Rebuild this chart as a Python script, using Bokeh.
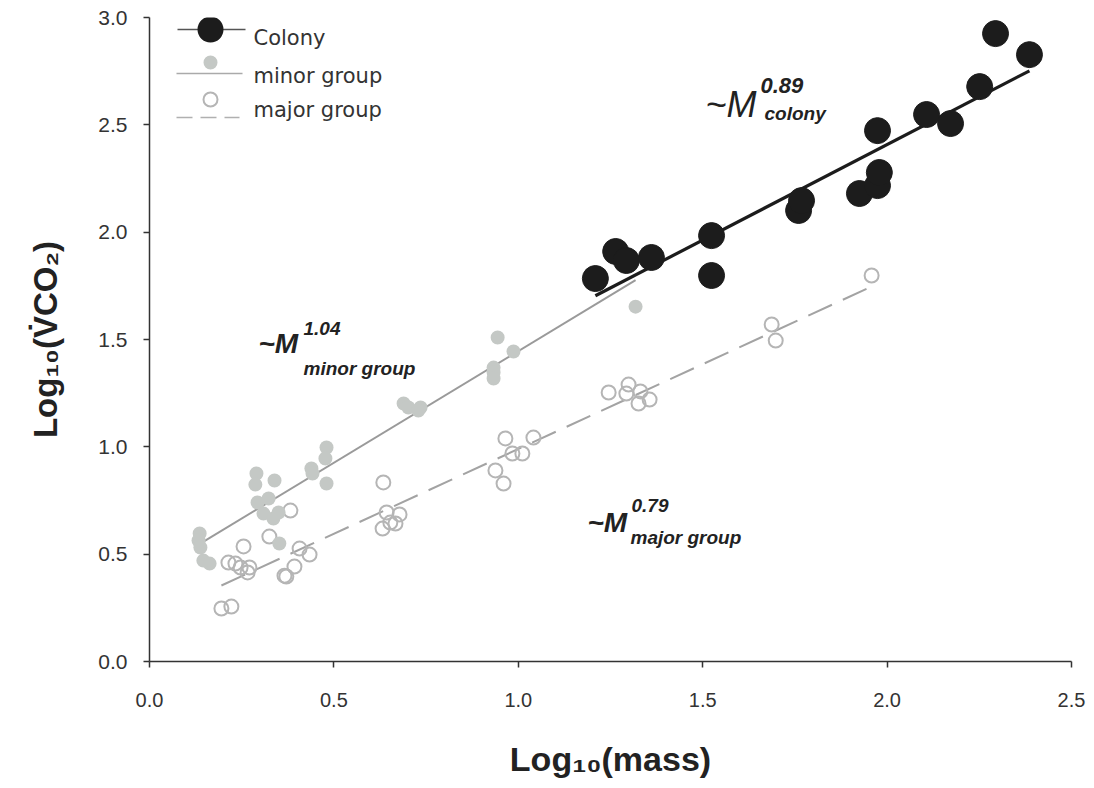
import numpy as np
from bokeh.plotting import figure
from bokeh.models import Range1d, Label, FixedTicker, NumeralTickFormatter
from bokeh.embed import file_html
from bokeh.resources import INLINE

# ---- data: log10(mass) vs log10(VCO2) ----
colony_x = [1.209, 1.264, 1.293, 1.361, 1.524, 1.524, 1.760, 1.768, 1.925,
            1.974, 1.979, 1.974, 2.107, 2.172, 2.251, 2.294, 2.386]
colony_y = [1.784, 1.910, 1.868, 1.882, 1.984, 1.798, 2.101, 2.147, 2.180,
            2.217, 2.278, 2.473, 2.548, 2.506, 2.678, 2.925, 2.827]

minor_x = [0.136, 0.133, 0.138, 0.146, 0.163, 0.290, 0.287, 0.339, 0.293, 0.323,
           0.309, 0.336, 0.350, 0.352, 0.439, 0.442, 0.480, 0.477, 0.480, 0.689,
           0.702, 0.735, 0.729, 0.944, 0.987, 0.933, 0.933, 0.933, 1.318]
minor_y = [0.596, 0.564, 0.531, 0.470, 0.456, 0.876, 0.824, 0.843, 0.741, 0.759,
           0.689, 0.666, 0.694, 0.550, 0.899, 0.876, 0.997, 0.946, 0.829, 1.202,
           1.183, 1.183, 1.169, 1.509, 1.444, 1.369, 1.346, 1.318, 1.653]

major_x = [0.195, 0.222, 0.214, 0.233, 0.247, 0.266, 0.271, 0.255, 0.325, 0.382,
           0.407, 0.434, 0.393, 0.371, 0.366, 0.634, 0.643, 0.632, 0.653, 0.667,
           0.678, 0.965, 1.041, 0.984, 1.011, 0.938, 0.960, 1.245, 1.299, 1.293,
           1.331, 1.326, 1.356, 1.687, 1.698, 1.958]
major_y = [0.247, 0.256, 0.461, 0.456, 0.438, 0.415, 0.438, 0.536, 0.582, 0.703,
           0.526, 0.498, 0.442, 0.396, 0.400, 0.834, 0.694, 0.619, 0.647, 0.643,
           0.685, 1.039, 1.043, 0.969, 0.969, 0.890, 0.829, 1.253, 1.290, 1.248,
           1.258, 1.202, 1.220, 1.570, 1.495, 1.798]

# scaling exponents (slope) and intercepts of the fitted lines
colony_fit = (0.89, 0.628)
minor_fit = (1.04, 0.406)
major_fit = (0.79, 0.200)

x_ticks = [0.0, 0.5, 1.0, 1.5, 2.0, 2.5]
y_ticks = [0.0, 0.5, 1.0, 1.5, 2.0, 2.5, 3.0]

x_title = "Log\u2081\u2080(mass)"
y_title = "Log\u2081\u2080(V\u0307CO\u2082)"

# ---- layout ----
W, H = 1094, 788
LEFT, RIGHT, TOP, BOTTOM = 149, 23, 17, 127
AXIS_COLOR = "#333333"
TEXT_COLOR = "#222222"
FONT = "Liberation Sans"

p = figure(width=W, height=H, output_backend="svg", toolbar_location=None,
           x_range=Range1d(0, 2.5), y_range=Range1d(0, 3.0),
           min_border_left=LEFT, min_border_right=RIGHT,
           min_border_top=TOP, min_border_bottom=BOTTOM)
p.outline_line_color = None
p.grid.visible = False
p.background_fill_color = "white"
p.border_fill_color = "white"

# a pixel-like coordinate system for legend and free text
p.extra_x_ranges = {"px": Range1d(LEFT, W - RIGHT)}
p.extra_y_ranges = {"px": Range1d(H - BOTTOM, TOP)}

for ax, ticks, tick_size, standoff, title, title_size, title_off in (
        (p.xaxis, x_ticks, 20, 25, x_title, 34, 30),
        (p.yaxis, y_ticks, 21, 16, y_title, 33, 31)):
    ax.ticker = FixedTicker(ticks=ticks)
    ax.formatter = NumeralTickFormatter(format="0.0")
    ax.axis_line_color = AXIS_COLOR
    ax.axis_line_width = 1.5
    ax.major_tick_line_color = AXIS_COLOR
    ax.major_tick_line_width = 1.5
    ax.major_tick_out = 6
    ax.major_tick_in = 0
    ax.minor_tick_out = 0
    ax.minor_tick_in = 0
    ax.major_label_text_font = FONT
    ax.major_label_text_font_size = f"{tick_size}px"
    ax.major_label_text_color = "#333333"
    ax.major_label_standoff = standoff
    ax.axis_label = title
    ax.axis_label_text_font = FONT
    ax.axis_label_text_font_style = "bold"
    ax.axis_label_text_font_size = f"{title_size}px"
    ax.axis_label_text_color = TEXT_COLOR
    ax.axis_label_standoff = title_off


def fit_line(xs, fit):
    slope, intercept = fit
    xx = np.array([min(xs), max(xs)])
    return xx, intercept + slope * xx


# fitted lines
mx, my = fit_line(minor_x, minor_fit)
p.line(mx, my, line_color="#9a9a9a", line_width=2)
jx, jy = fit_line(major_x, major_fit)
p.line(jx, jy, line_color="#a3a3a3", line_width=2, line_dash="26 12")

# observations
p.scatter(major_x, major_y, size=14, fill_color=None,
          line_color="#b5b5b5", line_width=2)
p.scatter(minor_x, minor_y, size=14, fill_color="#c4c8c5", line_color=None)

cx, cy = fit_line(colony_x, colony_fit)
p.line(cx, cy, line_color="#1c1c1c", line_width=3.2)
p.scatter(colony_x, colony_y, size=26, fill_color="#1c1c1c",
          line_color="#1c1c1c", line_width=1)

# ---- legend ----
PX = dict(x_range_name="px", y_range_name="px")
p.line([177, 245], [29, 29], line_color="#555555", line_width=1.5, **PX)
p.scatter([210], [29], size=26, fill_color="#1c1c1c", line_color=None, **PX)
p.line([176, 242], [73, 73], line_color="#aaaaaa", line_width=1.5, **PX)
p.scatter([210], [62], size=14, fill_color="#c4c8c5", line_color=None, **PX)
p.line([176, 239], [117, 117], line_color="#b0b0b0", line_width=1.5,
       line_dash="16 8", **PX)
p.scatter([210], [99], size=14, fill_color=None, line_color="#b5b5b5",
          line_width=2, **PX)

legend_texts = [("Colony", 37), ("minor group", 75), ("major group", 109)]
for txt, base in legend_texts:
    p.add_layout(Label(x=253, y=base, text=txt, text_font="DejaVu Sans",
                       text_font_size="21px", text_color="#333333",
                       text_baseline="alphabetic", **PX))


def label(x, y, text, size, style="bold italic", align="left", font=FONT):
    p.add_layout(Label(x=x, y=y, text=text, text_font=font,
                       text_font_size=f"{size}px", text_font_style=style,
                       text_color=TEXT_COLOR, text_align=align,
                       text_baseline="alphabetic", **PX))


# ---- exponent annotations ----
label(705, 104, "~M", 36, style="italic")
label(760, 85, f"{colony_fit[0]:.2f}", 22)
label(764, 113, "colony", 19)

label(258, 343, "~M", 28)
label(303, 328, f"{minor_fit[0]:.2f}", 19)
label(303, 368, "minor group", 19)

label(587, 522, "~M", 28)
label(631, 505, f"{major_fit[0]:.2f}", 19)
label(630, 537, "major group", 19)

open("out.html", "w").write(file_html(p, INLINE))
